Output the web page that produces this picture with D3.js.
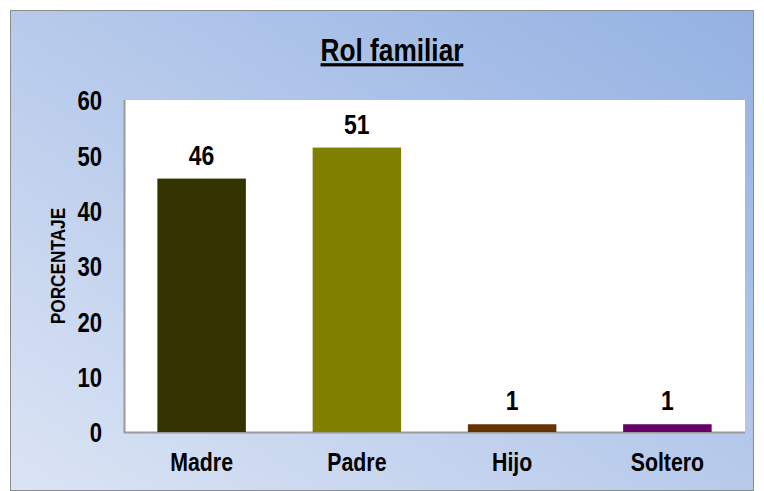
<!DOCTYPE html>
<meta charset="utf-8">
<style>
body { margin: 0; }
text { font-family: "Liberation Sans Narrow", "Arial Narrow", "Liberation Sans", sans-serif; font-weight: bold; fill: #000; }
</style>
<body>
<script src="https://d3js.org/d3.v7.min.js"></script>
<script>

var categories = ["Madre", "Padre", "Hijo", "Soltero"],
    values = [45.8, 51.4, 1.4, 1.4],
    colors = ["#333300", "#808000", "#663300", "#660066"],
    yTicks = [0, 10, 20, 30, 40, 50, 60];

var width = 764, height = 491;
var plot = {left: 124, right: 745, top: 100, bottom: 432};
var narrow = "scale(0.82,1)";   // squeeze text to look like Arial Narrow

var svg = d3.select("body").append("svg")
    .attr("width", width)
    .attr("height", height);

//background gradient
var grad = svg.append("defs").append("linearGradient")
    .attr("id", "bg")
    .attr("x1", "0%").attr("y1", "100%")
    .attr("x2", "100%").attr("y2", "0%");
grad.append("stop").attr("offset", "0%").attr("stop-color", "#dbe4f4");
grad.append("stop").attr("offset", "50%").attr("stop-color", "#b7caeb");
grad.append("stop").attr("offset", "100%").attr("stop-color", "#93b1e2");

svg.append("rect")
    .attr("x", 10.5).attr("y", 10.5)
    .attr("width", 743).attr("height", 480)
    .attr("fill", "url(#bg)")
    .attr("stroke", "#8c8c8c");

svg.append("rect")
    .attr("x", plot.left).attr("y", plot.top)
    .attr("width", plot.right - plot.left)
    .attr("height", plot.bottom - plot.top)
    .attr("fill", "#fff");

//plot frame: left and bottom
svg.append("path")
    .attr("d", "M" + (plot.left + 0.5) + "," + plot.top + "V" + (plot.bottom + 0.5) + "H" + plot.right)
    .attr("fill", "none")
    .attr("stroke", "#9a9a9a")
    .attr("stroke-width", 2);

var x = d3.scaleBand()
    .domain(categories)
    .range([plot.left, plot.right])
    .paddingInner(0.43)
    .paddingOuter(0.215);

var y = d3.scaleLinear()
    .domain([0, 60])
    .range([plot.bottom, plot.top]);

svg.selectAll("rect.bar")
    .data(values)
  .enter().append("rect")
    .attr("class", "bar")
    .attr("x", function(d, i) { return x(categories[i]); })
    .attr("y", function(d) { return y(d); })
    .attr("width", x.bandwidth())
    .attr("height", function(d) { return y(0) - y(d); })
    .attr("fill", function(d, i) { return colors[i]; });

svg.selectAll("g.val")
    .data(values)
  .enter().append("g")
    .attr("class", "val")
    .attr("transform", function(d, i) {
      return "translate(" + (x(categories[i]) + x.bandwidth() / 2) + "," + (y(d) - 14) + ")";
    })
  .append("text")
    .attr("transform", narrow)
    .attr("text-anchor", "middle")
    .style("font-size", "28px")
    .text(function(d) { return d3.format(".0f")(d); });

//y axis
var yAxis = svg.append("g")
    .attr("transform", "translate(" + (plot.left - 22) + ",0)")
    .call(d3.axisLeft(y).tickValues(yTicks).tickSize(0).tickPadding(0));
yAxis.select(".domain").remove();
yAxis.selectAll("text")
    .attr("transform", narrow)
    .style("font-size", "27px")
    .attr("dy", "0.36em");

//x axis
var xAxis = svg.append("g")
    .attr("transform", "translate(0," + (plot.bottom + 21) + ")")
    .call(d3.axisBottom(x).tickSize(0).tickPadding(0));
xAxis.select(".domain").remove();
xAxis.selectAll("text")
    .attr("transform", narrow)
    .style("font-size", "26px")
    .attr("dy", "0.71em");

svg.append("g")
    .attr("transform", "translate(65,266) rotate(-90)")
  .append("text")
    .attr("transform", narrow)
    .attr("text-anchor", "middle")
    .style("font-size", "21px")
    .text("PORCENTAJE");

svg.append("g")
    .attr("transform", "translate(392,61)")
  .append("text")
    .attr("transform", narrow)
    .attr("text-anchor", "middle")
    .style("font-size", "32px")
    .style("text-decoration", "underline")
    .text("Rol familiar");

</script>
